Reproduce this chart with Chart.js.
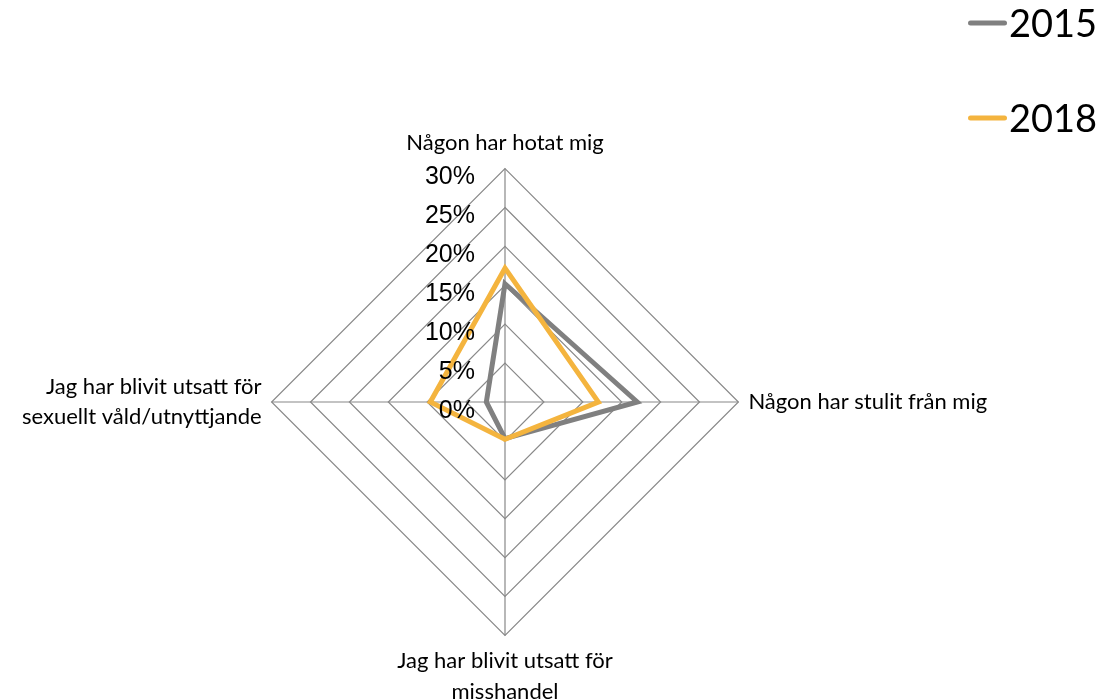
<!DOCTYPE html>
<html>
<head>
<meta charset="utf-8">
<script src="https://cdn.jsdelivr.net/npm/chart.js@4.4.1/dist/chart.umd.min.js"></script>
<style>
html,body{margin:0;padding:0;background:#fff;overflow:hidden;}
#wrap{position:relative;width:1102px;height:700px;overflow:hidden;}
#c{position:absolute;left:-55px;top:0;display:block;}
</style>
</head>
<body>
<div id="wrap"><canvas id="c" width="1160" height="723"></canvas></div>
<script>
// ---- data ----
const categories = [
  ["Någon har hotat mig"],
  ["Någon har stulit från mig"],
  ["Jag har blivit utsatt för", "misshandel"],
  ["Jag har blivit utsatt för", "sexuellt våld/utnyttjande"]
];
const seriesNames = ["2015", "2018"];
const values2015 = [15.2, 17.0, 4.7, 2.4];
const values2018 = [17.2, 12.0, 4.8, 9.6];
const tickMin = 0;
const tickMax = 30;
const tickStep = 5;
const tickSuffix = "%";

const colors = ["#808080", "#F4B43E"];

// radial tick labels, placed to the left of the vertical axis, positioned by the scale
const tickLabelPlugin = {
  id: 'tickLabels',
  afterDatasetsDraw(chart) {
    const s = chart.scales.r;
    const ctx = chart.ctx;
    ctx.save();
    ctx.font = '25px "Liberation Sans", Arial, sans-serif';
    ctx.fillStyle = '#000';
    ctx.textAlign = 'right';
    ctx.textBaseline = 'middle';
    s.ticks.forEach(t => {
      const d = s.getDistanceFromCenterForValue(t.value);
      ctx.fillText(t.label, s.xCenter - 30, s.yCenter - d + 9);
    });
    ctx.restore();
  }
};

// legend in the top-right corner, built from the dataset properties
const legendPlugin = {
  id: 'cornerLegend',
  afterDraw(chart) {
    const ctx = chart.ctx;
    ctx.save();
    chart.data.datasets.forEach((ds, i) => {
      const y = 24 + i * 95;
      ctx.strokeStyle = ds.borderColor;
      ctx.lineWidth = 5;
      ctx.lineCap = 'round';
      ctx.beginPath();
      ctx.moveTo(1025.5, y - 1);
      ctx.lineTo(1059.5, y - 1);
      ctx.stroke();
      ctx.fillStyle = '#000';
      ctx.font = '38px Lato, "Liberation Sans", sans-serif';
      ctx.textAlign = 'left';
      ctx.textBaseline = 'middle';
      ctx.fillText(ds.label, 1064, y + 1);
    });
    ctx.restore();
  }
};

new Chart(document.getElementById('c'), {
  type: 'radar',
  data: {
    labels: categories,
    datasets: [
      {
        label: seriesNames[0],
        data: values2015,
        borderColor: colors[0],
        backgroundColor: colors[0],
        borderWidth: 5,
        pointRadius: 0,
        pointHoverRadius: 0,
        fill: false,
        order: 1
      },
      {
        label: seriesNames[1],
        data: values2018,
        borderColor: colors[1],
        backgroundColor: colors[1],
        borderWidth: 5,
        pointRadius: 0,
        pointHoverRadius: 0,
        fill: false,
        order: 0
      }
    ]
  },
  options: {
    responsive: false,
    animation: false,
    devicePixelRatio: 1,
    layout: { padding: { left: 0, right: 40, top: 113, bottom: 0 } },
    plugins: {
      legend: { display: false },
      tooltip: { enabled: false }
    },
    scales: {
      r: {
        min: tickMin,
        max: tickMax,
        beginAtZero: true,
        ticks: {
          stepSize: tickStep,
          display: false,
          callback: v => v + tickSuffix
        },
        grid: { color: '#888888', lineWidth: 1.2, circular: false },
        angleLines: { color: '#888888', lineWidth: 1.2 },
        pointLabels: {
          color: '#000',
          padding: 10,
          font: { family: 'Lato, "Liberation Sans", sans-serif', size: 22, lineHeight: 1.4 }
        }
      }
    }
  },
  plugins: [tickLabelPlugin, legendPlugin]
});
</script>
</body>
</html>
